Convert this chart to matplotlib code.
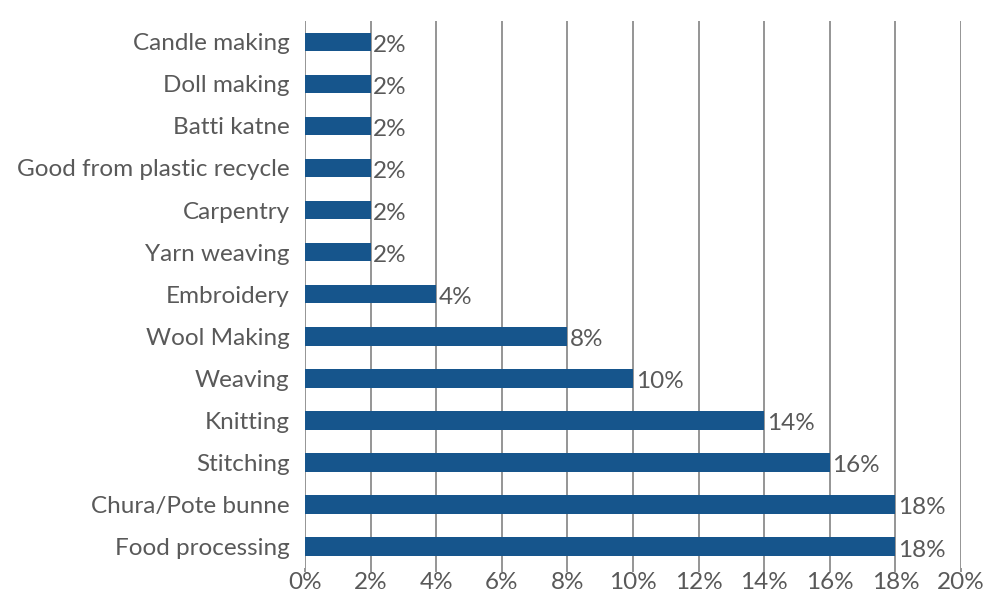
import matplotlib.pyplot as plt

categories = ["Food processing", "Chura/Pote bunne", "Stitching", "Knitting", "Weaving",
              "Wool Making", "Embroidery", "Yarn weaving", "Carpentry",
              "Good from plastic recycle", "Batti katne", "Doll making", "Candle making"]
values = [18, 18, 16, 14, 10, 8, 4, 2, 2, 2, 2, 2, 2]
xticks = [0, 2, 4, 6, 8, 10, 12, 14, 16, 18, 20]

plt.rcParams['font.family'] = ['Lato', 'DejaVu Sans']
grey = "#595959"
fs = 17.5

fig = plt.figure(figsize=(9.85, 5.92), dpi=100)
ax = fig.add_axes([0.3096, 0.041, 0.666, 0.924])

ypos = range(len(categories))
ax.barh(ypos, values, height=0.44, color="#16558C", zorder=3)
for y, v in zip(ypos, values):
    ax.text(v + 0.08, y - 0.08, f"{v}%", va="center", ha="left", fontsize=fs, color=grey)

ax.set_xlim(0, 20)
ax.set_ylim(-0.5, len(categories) - 0.5)
ax.set_yticks(list(ypos))
ax.set_yticklabels(categories, fontsize=fs, color=grey)
ax.set_xticks(xticks)
ax.set_xticklabels([f"{t}%" for t in xticks], fontsize=fs, color=grey)
ax.tick_params(axis="y", length=0, pad=11)
ax.tick_params(axis="x", length=3, color="#8c8c8c", width=1.3, pad=0)
ax.grid(axis="x", color="#8c8c8c", linewidth=1.3, zorder=0)
for s in ax.spines.values():
    s.set_visible(False)

fig.savefig("out.png", dpi=100)
